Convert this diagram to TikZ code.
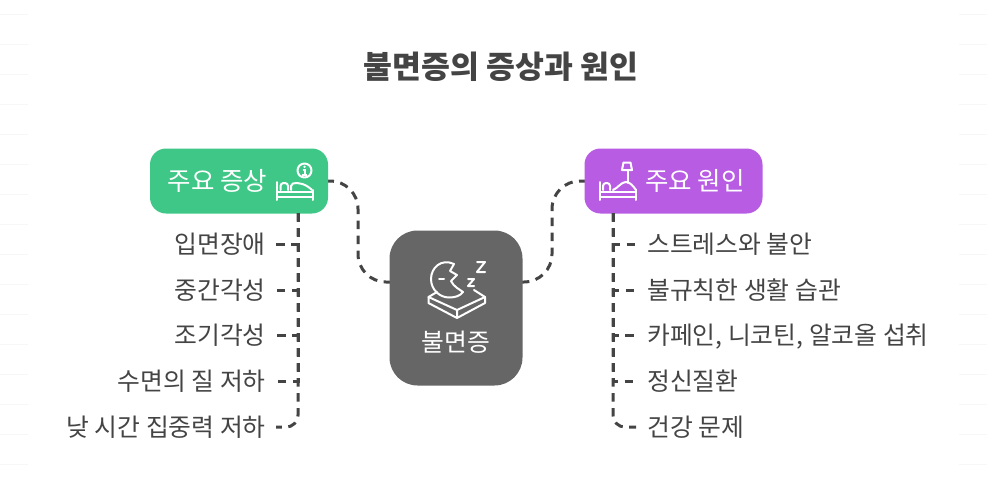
\documentclass[tikz,border=0pt]{standalone}
\usepackage{fontspec}
\setmainfont{Noto Sans CJK KR}
\usetikzlibrary{positioning}
\definecolor{inkgray}{HTML}{444444}
\definecolor{hubgray}{HTML}{666666}
\definecolor{symgreen}{HTML}{3EC786}
\definecolor{causepurple}{HTML}{B75CE3}
\definecolor{faintline}{HTML}{F7F7F7}

\begin{document}
\begin{tikzpicture}[
    x=1pt, y=-1pt,
    font=\fontsize{24.8}{29}\selectfont,
    topic/.style={fill=#1, rounded corners=16pt, minimum width=178pt, minimum height=65pt,
                  text=white, inner sep=0pt},
    leafleft/.style={text=inkgray, anchor=east, inner xsep=10pt, inner ysep=6pt,
                  text height=18pt, text depth=0pt},
    leafright/.style={text=inkgray, anchor=west, inner xsep=11pt, inner ysep=6pt,
                  text height=18pt, text depth=0pt},
    link/.style={draw=inkgray, line width=3pt, dash pattern=on 8.5pt off 6.5pt},
    glyph/.style={draw=white, line width=2pt, line join=round, line cap=round}
]
  \useasboundingbox (0,0) rectangle (987,490);

  % faint rules at the page edges
  \foreach \rowy in {14,44,...,464} {
    \draw[faintline, line width=1pt] (0,\rowy) -- (28,\rowy);
    \draw[faintline, line width=1pt] (959,\rowy) -- (987,\rowy);
  }

  \node[text=inkgray, font=\fontsize{31.4}{36}\selectfont\bfseries] (title) at (501,67) {불면증의 증상과 원인};

  \draw[link, rounded corners=28pt, dash phase=2.5pt] (328,181) -| (358,282) -- (390,282);
  \draw[link, rounded corners=28pt, dash phase=2.5pt] (585,181) -| (552,282) -- (522,282);

  \node[fill=hubgray, rounded corners=28pt, minimum width=133pt, minimum height=155pt] (hub) at (456,308) {};
  \node[text=white] (hublabel) at (456,342.5) {불면증};

  \node[topic=symgreen] (symptoms) at (239,181) {};
  \node[text=white, font=\fontsize{25.5}{29}\selectfont] (symptomslabel) at (217.5,180.5) {주요 증상};
  \node[topic=causepurple] (causes) at (673.5,181) {};
  \node[text=white, font=\fontsize{25.5}{29}\selectfont] (causeslabel) at (695,180.5) {주요 원인};

  \coordinate (symtrunk) at (298,213);
  \coordinate (causetrunk) at (613,213);

  \node[leafleft] (sleeponset) at (276,244.5) {입면장애};
  \node[leafleft, below=15.25pt of sleeponset.south east, anchor=north east] (midwake) {중간각성};
  \node[leafleft, below=15.25pt of midwake.south east, anchor=north east] (earlywake) {조기각성};
  \node[leafleft, below=15.25pt of earlywake.south east, anchor=north east] (quality) {수면의 질 저하};
  \node[leafleft, below=15.25pt of quality.south east, anchor=north east] (daytime) {낮 시간 집중력 저하};

  \node[leafright] (stress) at (636,244.5) {스트레스와 불안};
  \node[leafright, below=15.25pt of stress.south west, anchor=north west] (habits) {불규칙한 생활 습관};
  \node[leafright, below=15.25pt of habits.south west, anchor=north west] (caffeine) {카페인, 니코틴, 알코올 섭취};
  \node[leafright, below=15.25pt of caffeine.south west, anchor=north west] (mental) {정신질환};
  \node[leafright, below=15.25pt of mental.south west, anchor=north west] (health) {건강 문제};

  \draw[link] (symtrunk) |- (sleeponset.east);
  \draw[link] (symtrunk) |- (midwake.east);
  \draw[link] (symtrunk) |- (earlywake.east);
  \draw[link] (symtrunk) |- (quality.east);
  \draw[link, rounded corners=12pt] (symtrunk) |- (daytime.east);

  \draw[link] (causetrunk) |- (stress.west);
  \draw[link] (causetrunk) |- (habits.west);
  \draw[link] (causetrunk) |- (caffeine.west);
  \draw[link] (causetrunk) |- (mental.west);
  \draw[link, rounded corners=12pt] (causetrunk) |- (health.west);

  % bed with info badge
  \draw[glyph] (277,182) -- (277,200) (313,190) -- (313,200) (277,192) -- (313,192) (277,196.5) -- (313,196.5);
  \draw[glyph, rounded corners=3pt] (280.5,190) -- (280.5,183) -- (288,183) -- (288,190);
  \draw[glyph, rounded corners=2pt] (291,190) -- (291,184) .. controls (298,182) and (306,184) .. (312,190);
  \draw[glyph] (304.5,170.5) circle (7);
  \fill[white] (304.5,166.8) circle (1.3);
  \draw[white, line width=1.8pt] (302.6,169.8) -- (305,169.8) -- (305,174.6) (302.4,174.6) -- (307.4,174.6);

  % bed with lamp
  \draw[glyph] (600,182) -- (600,200) (636,190) -- (636,200) (600,192) -- (636,192) (600,196.5) -- (636,196.5);
  \draw[glyph, rounded corners=3pt] (603,190) -- (603,183) -- (610,183) -- (610,190);
  \draw[glyph] (613,190) .. controls (618,188) and (621,182) .. (626,182) .. controls (630,182) and (633,186) .. (636,190);
  \draw[glyph] (623.5,162.5) -- (630.5,162.5) -- (632,170) -- (622,170) -- cycle;
  \draw[glyph] (627.5,170) -- (627.5,183);

  % moon over mattress
  \draw[glyph] (454,264) .. controls (441,258) and (431,268) .. (431,279)
    .. controls (431,290) and (440,297.5) .. (449,297.5) .. controls (455,297.5) and (460,296) .. (463,292)
    .. controls (459,289) and (454,287) .. (451,281) -- (457,275) -- (450,271) -- cycle;
  \draw[glyph] (439,279) -- (444,279);
  \draw[glyph] (477,262) -- (485,262) -- (477,272) -- (485,272);
  \draw[glyph] (468,279) -- (474,279) -- (468,286) -- (474,286);
  \draw[glyph] (437,292) -- (428.5,297) -- (457,310) -- (485,297) -- (474,290);
  \draw[glyph] (428.5,297) -- (428.5,303) -- (457,318) -- (485,303) -- (485,297) (457,310) -- (457,318);
\end{tikzpicture}
\end{document}
